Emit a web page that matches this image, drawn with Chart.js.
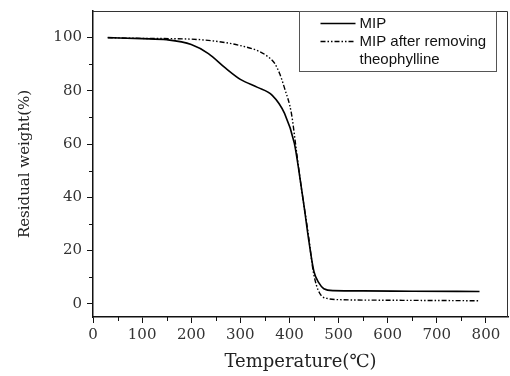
<!DOCTYPE html>
<html><head><meta charset="utf-8">
<script src="https://cdn.jsdelivr.net/npm/chart.js@4/dist/chart.umd.min.js"></script>
<style>html,body{margin:0;padding:0;background:#fff;}</style>
</head><body>
<canvas id="c" width="510" height="376" style="width:510px;height:376px;display:block"></canvas>
<script>
const seriesNames = ['MIP', 'MIP after removing theophylline'];
const mipTemp = [30, 100, 150, 200, 235, 270, 300, 335, 365, 390, 410, 420, 430, 440, 450, 460, 470, 490, 550, 650, 787];
const mipWeight = [100, 99.6, 99.2, 97.4, 94, 88.5, 84.3, 81.3, 78.3, 71.5, 60.3, 49, 36.3, 23, 12, 7.8, 5.6, 4.9, 4.8, 4.7, 4.6];
const remTemp = [30, 100, 165, 220, 270, 300, 335, 355, 370, 380, 390, 404, 414, 424, 438, 449, 461, 479, 506, 600, 700, 787];
const remWeight = [100, 99.7, 99.6, 99.2, 98.1, 97, 95.1, 93, 90.3, 86.5, 81, 71.5, 57.7, 43.8, 26.6, 11.6, 4.1, 1.9, 1.5, 1.3, 1.2, 1.1];
const xMajorTicks = [0, 100, 200, 300, 400, 500, 600, 700, 800];
const xMinorTicks = [50, 150, 250, 350, 450, 550, 650, 750];
const yMajorTicks = [0, 20, 40, 60, 80, 100];
const yMinorTicks = [10, 30, 50, 70, 90];
const xTitle = 'Temperature(\u2103)';
const yTitle = 'Residual weight(%)';

const toPts = (xs, ys) => xs.map((v, i) => ({x: v, y: ys[i]}));

const framePlugin = {
  id: 'frame',
  afterDraw(chart) {
    const {ctx, chartArea: a, scales: {x, y}} = chart;
    ctx.save();
    ctx.strokeStyle = '#333';
    ctx.lineWidth = 1;
    ctx.beginPath();
    ctx.moveTo(a.left, a.top + 0.5);
    ctx.lineTo(a.right - 0.5, a.top + 0.5);
    ctx.lineTo(a.right - 0.5, a.bottom);
    ctx.stroke();
    ctx.strokeStyle = '#111';
    ctx.beginPath();
    xMinorTicks.forEach(v => { const px = Math.round(x.getPixelForValue(v)) + 0.5; ctx.moveTo(px, a.bottom); ctx.lineTo(px, a.bottom + 4); });
    yMinorTicks.forEach(v => { const py = Math.round(y.getPixelForValue(v)) + 0.5; ctx.moveTo(a.left, py); ctx.lineTo(a.left - 4, py); });
    ctx.stroke();
    // legend
    const lx = 299.5, ly = a.top + 0.5, lw = 197, lh = 60;
    ctx.fillStyle = '#fff';
    ctx.fillRect(lx, ly, lw, lh);
    ctx.strokeStyle = '#555';
    ctx.strokeRect(lx, ly, lw, lh);
    ctx.font = '15px "Liberation Sans", Arial, sans-serif';
    ctx.fillStyle = '#111';
    ctx.textBaseline = 'middle';
    let rowY = ly + 12;
    chart.data.datasets.forEach(ds => {
      ctx.save();
      ctx.strokeStyle = ds.borderColor;
      ctx.lineWidth = ds.borderWidth;
      ctx.setLineDash(ds.borderDash || []);
      ctx.beginPath();
      ctx.moveTo(lx + 21, rowY);
      ctx.lineTo(lx + 56, rowY);
      ctx.stroke();
      ctx.restore();
      const words = ds.label.split(' ');
      let line = '';
      const lines = [];
      words.forEach(w => {
        const t = line ? line + ' ' + w : w;
        if (ctx.measureText(t).width > 132 && line) { lines.push(line); line = w; } else line = t;
      });
      lines.push(line);
      lines.forEach(l => { ctx.fillText(l, lx + 60, rowY); rowY += 18; });
    });
    ctx.restore();
  }
};

const tickFont = {family: '"DejaVu Serif", serif', size: 15};

new Chart(document.getElementById('c'), {
  type: 'line',
  data: {
    datasets: [
      {label: seriesNames[0], data: toPts(mipTemp, mipWeight), borderColor: '#000', borderWidth: 1.6, pointRadius: 0, cubicInterpolationMode: 'monotone', fill: false},
      {label: seriesNames[1], data: toPts(remTemp, remWeight), borderColor: '#000', borderWidth: 1.4, borderDash: [5, 2, 1.5, 2, 1.5, 2], pointRadius: 0, cubicInterpolationMode: 'monotone', fill: false}
    ]
  },
  options: {
    responsive: false,
    animation: false,
    devicePixelRatio: 1,
    layout: {padding: {top: 11, right: 2, left: 0, bottom: 0}},
    plugins: {legend: {display: false}, tooltip: {enabled: false}},
    scales: {
      x: {
        type: 'linear', min: 0, max: 845,
        afterBuildTicks(scale) { scale.ticks = xMajorTicks.map(v => ({value: v})); },
        afterFit(scale) { scale.height = 59; scale.paddingLeft = 0; scale.paddingRight = 0; },
        grid: {drawOnChartArea: false, drawTicks: true, tickLength: 6, tickColor: '#111', tickWidth: 1},
        border: {display: true, color: '#111', width: 1.5},
        ticks: {font: tickFont, color: '#333', padding: 3, maxRotation: 0, autoSkip: false},
        title: {display: true, text: xTitle, font: {family: '"DejaVu Serif", serif', size: 18}, color: '#222', padding: {top: 0, bottom: 3}}
      },
      y: {
        type: 'linear', min: -5, max: 110,
        afterBuildTicks(scale) { scale.ticks = yMajorTicks.map(v => ({value: v})); },
        afterFit(scale) { scale.width = 93; scale.paddingTop = 0; scale.paddingBottom = 0; },
        grid: {drawOnChartArea: false, drawTicks: true, tickLength: 6, tickColor: '#111', tickWidth: 1},
        border: {display: true, color: '#111', width: 1.5},
        ticks: {font: tickFont, color: '#333', padding: 5, autoSkip: false},
        title: {display: true, text: yTitle, font: {family: '"DejaVu Serif", serif', size: 15}, color: '#222', padding: {top: 16, bottom: 0}}
      }
    }
  },
  plugins: [framePlugin]
});
</script>
</body></html>
